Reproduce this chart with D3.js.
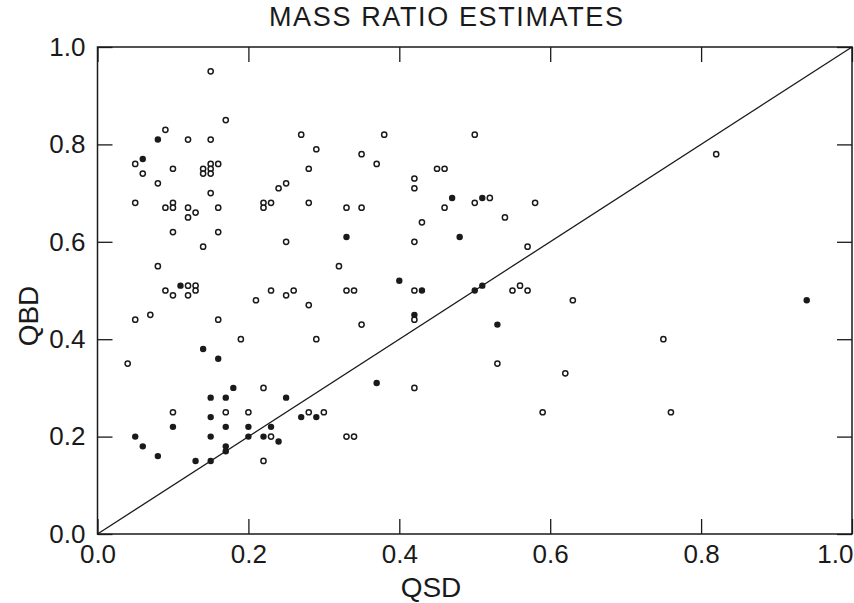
<!DOCTYPE html>
<html>
<head>
<meta charset="utf-8">
<script src="https://cdn.jsdelivr.net/npm/d3@7/dist/d3.min.js"></script>
<style>
  html, body { margin: 0; padding: 0; background: #fff; }
  svg { display: block; font-family: "Liberation Sans", Arial, Helvetica, sans-serif; }
</style>
</head>
<body>
<svg id="chart" width="854" height="603"></svg>
<script>
// ---- Data ----
const titleText = "MASS RATIO ESTIMATES";
const xLabel = "QSD";
const yLabel = "QBD";
const tickValues = [0, 0.2, 0.4, 0.6, 0.8, 1.0];

// filled (solid) markers: [QSD, QBD]
const filledPoints = [
  [0.08,0.81],[0.06,0.77],[0.47,0.69],[0.51,0.69],[0.33,0.61],[0.48,0.61],
  [0.11,0.51],[0.40,0.52],[0.43,0.50],[0.50,0.50],[0.51,0.51],[0.42,0.45],
  [0.53,0.43],[0.94,0.48],[0.14,0.38],[0.16,0.36],[0.37,0.31],[0.18,0.30],
  [0.15,0.28],[0.17,0.28],[0.25,0.28],[0.15,0.24],[0.27,0.24],[0.29,0.24],
  [0.10,0.22],[0.17,0.22],[0.20,0.22],[0.23,0.22],[0.05,0.20],[0.15,0.20],
  [0.20,0.20],[0.22,0.20],[0.24,0.19],[0.06,0.18],[0.17,0.18],[0.17,0.17],
  [0.08,0.16],[0.13,0.15],[0.15,0.15]
];

// open (hollow) markers: [QSD, QBD]
const openPoints = [
  [0.15,0.95],[0.17,0.85],[0.09,0.83],[0.12,0.81],[0.15,0.81],[0.27,0.82],
  [0.38,0.82],[0.50,0.82],[0.29,0.79],[0.35,0.78],[0.82,0.78],
  [0.05,0.76],[0.06,0.74],[0.10,0.75],[0.14,0.75],[0.14,0.74],[0.15,0.76],
  [0.15,0.75],[0.15,0.74],[0.16,0.76],[0.37,0.76],[0.28,0.75],[0.45,0.75],
  [0.46,0.75],[0.42,0.73],[0.08,0.72],[0.24,0.71],[0.25,0.72],[0.42,0.71],
  [0.15,0.70],
  [0.05,0.68],[0.10,0.68],[0.22,0.68],[0.23,0.68],[0.28,0.68],[0.50,0.68],
  [0.58,0.68],[0.52,0.69],
  [0.09,0.67],[0.10,0.67],[0.12,0.67],[0.16,0.67],[0.22,0.67],[0.33,0.67],
  [0.35,0.67],[0.46,0.67],
  [0.13,0.66],[0.12,0.65],[0.54,0.65],[0.43,0.64],[0.10,0.62],[0.16,0.62],
  [0.25,0.60],[0.42,0.60],[0.14,0.59],[0.57,0.59],
  [0.08,0.55],[0.32,0.55],
  [0.09,0.50],[0.12,0.51],[0.13,0.51],[0.13,0.50],[0.10,0.49],[0.12,0.49],
  [0.21,0.48],[0.23,0.50],[0.25,0.49],[0.26,0.50],[0.28,0.47],[0.33,0.50],
  [0.34,0.50],[0.42,0.50],[0.55,0.50],[0.56,0.51],[0.57,0.50],[0.63,0.48],
  [0.05,0.44],[0.07,0.45],[0.16,0.44],[0.35,0.43],[0.42,0.44],
  [0.19,0.40],[0.29,0.40],[0.75,0.40],
  [0.04,0.35],[0.53,0.35],[0.62,0.33],[0.22,0.30],[0.42,0.30],
  [0.10,0.25],[0.17,0.25],[0.20,0.25],[0.28,0.25],[0.30,0.25],[0.59,0.25],
  [0.76,0.25],
  [0.23,0.20],[0.33,0.20],[0.34,0.20],[0.22,0.15]
];

// ---- Layout ----
const svg = d3.select("#chart");
const plot = { left: 97.5, right: 852, top: 47, bottom: 534 };
const x = d3.scaleLinear().domain([0, 1]).range([plot.left, plot.right]);
const y = d3.scaleLinear().domain([0, 1]).range([plot.bottom, plot.top]);
const ink = "#1a1a1a";
const fmt = d3.format(".1f");

// Title
svg.append("text")
  .attr("x", 269).attr("y", 26)
  .attr("textLength", 354).attr("lengthAdjust", "spacing")
  .attr("font-size", 27).attr("fill", ink)
  .text(titleText);

// Axes (inward ticks)
const tickLen = 15;
const gB = svg.append("g").attr("transform", `translate(0,${plot.bottom})`)
  .call(d3.axisBottom(x).tickValues(tickValues).tickFormat(fmt).tickSize(-tickLen).tickPadding(11));
const gL = svg.append("g").attr("transform", `translate(${plot.left},0)`)
  .call(d3.axisLeft(y).tickValues(tickValues).tickFormat(fmt).tickSize(-tickLen).tickPadding(12));
const gT = svg.append("g").attr("transform", `translate(0,${plot.top})`)
  .call(d3.axisTop(x).tickValues(tickValues).tickFormat("").tickSize(-tickLen));
const gR = svg.append("g").attr("transform", `translate(${plot.right},0)`)
  .call(d3.axisRight(y).tickValues(tickValues).tickFormat("").tickSize(-tickLen));

[gB, gL, gT, gR].forEach(g => {
  g.select(".domain").remove();
  g.selectAll(".tick line").attr("stroke", ink).attr("stroke-width", 1.3);
  g.selectAll(".tick text").attr("fill", ink).attr("font-size", 26)
    .attr("font-family", "'Liberation Sans', Arial, Helvetica, sans-serif");
});
// keep the last x label inside the picture, as in the reference
gB.selectAll(".tick text").filter(d => d === 1).attr("text-anchor", "end").attr("x", 1);

// Frame
svg.append("rect")
  .attr("x", x(0)).attr("y", y(1))
  .attr("width", x(1) - x(0)).attr("height", y(0) - y(1))
  .attr("fill", "none").attr("stroke", ink).attr("stroke-width", 1.5);

// Diagonal y = x
svg.append("line")
  .attr("x1", x(0)).attr("y1", y(0)).attr("x2", x(1)).attr("y2", y(1))
  .attr("stroke", ink).attr("stroke-width", 1.3);

// Axis labels
svg.append("text")
  .attr("x", 431).attr("y", 597).attr("text-anchor", "middle")
  .attr("font-size", 28).attr("fill", ink).text(xLabel);
svg.append("text")
  .attr("transform", "translate(38,316) rotate(-90)").attr("text-anchor", "middle")
  .attr("font-size", 28).attr("fill", ink).text(yLabel);

// Points
svg.append("g").selectAll("circle.open").data(openPoints).join("circle")
  .attr("class", "open")
  .attr("cx", d => x(d[0])).attr("cy", d => y(d[1])).attr("r", 2.6)
  .attr("fill", "#fff").attr("stroke", ink).attr("stroke-width", 1.5);
svg.append("g").selectAll("circle.filled").data(filledPoints).join("circle")
  .attr("class", "filled")
  .attr("cx", d => x(d[0])).attr("cy", d => y(d[1])).attr("r", 3.2)
  .attr("fill", ink);
</script>
</body>
</html>
